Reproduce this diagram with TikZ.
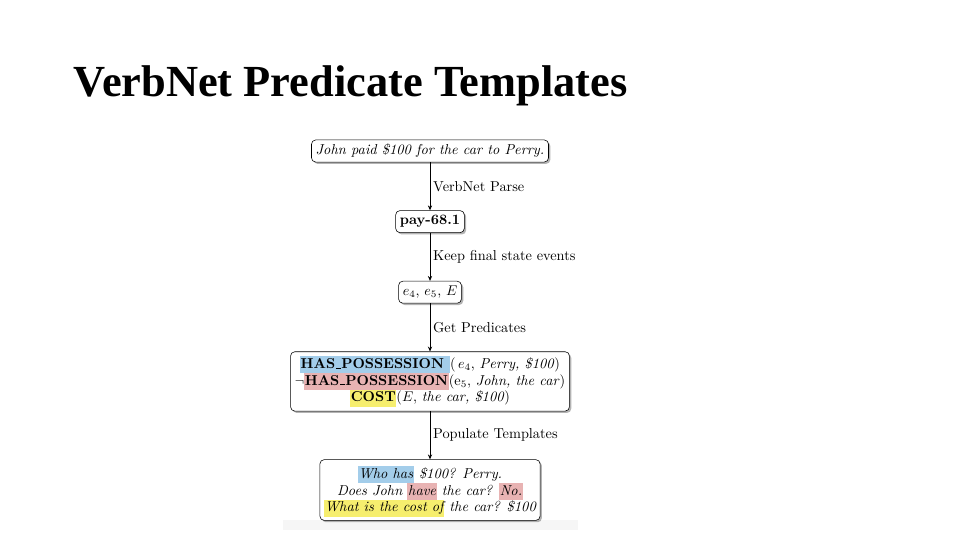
\documentclass[tikz,border=0pt]{standalone}
\usepackage{amsmath, amssymb}
\usepackage{fontspec}
\usepackage{tikz}
\usetikzlibrary{arrows.meta,positioning,shadows}

\newfontfamily\titlefont{Liberation Serif}
\definecolor{hlblue}{HTML}{A3CDEA}
\definecolor{hlpink}{HTML}{E8B3B3}
\definecolor{hlyellow}{HTML}{F6EE6E}
\newcommand{\hlb}[1]{{\setlength{\fboxsep}{0pt}\smash{\colorbox{hlblue}{\strut\kern0.5pt#1\kern0.5pt}}}}
\newcommand{\hlp}[1]{{\setlength{\fboxsep}{0pt}\smash{\colorbox{hlpink}{\strut\kern0.5pt#1\kern0.5pt}}}}
\newcommand{\hly}[1]{{\setlength{\fboxsep}{0pt}\smash{\colorbox{hlyellow}{\strut\kern0.5pt#1\kern0.5pt}}}}
\newcommand{\usc}{\kern0.05em\rule{0.32em}{0.45pt}\kern0.05em}

\begin{document}
\begin{tikzpicture}[
  stage/.style={rectangle,draw,rounded corners=3pt,fill=white,align=center,
                font=\fontsize{10.2}{12}\selectfont,minimum height=0.55cm,
                inner sep=3pt,
                drop shadow={shadow xshift=1.3pt,shadow yshift=-1.3pt,opacity=0.6}},
  arrow/.style={-{Stealth[length=3.5pt,width=3pt]},line width=0.5pt},
  steplabel/.style={right,font=\fontsize{10.2}{12}\selectfont,inner sep=2pt}]

\useasboundingbox (0,0) rectangle (24,13.5);
\fill[gray!7] (7.075,0.25) rectangle (14.45,0.5);

\node[anchor=base west,font=\titlefont\bfseries\fontsize{31.6}{36}\selectfont]
  (title) at (1.725,11.075) {VerbNet Predicate Templates};

\node[stage] (sent) at (10.75,9.725) {\itshape John paid \$100 for the car to Perry.};
\node[stage,below=1.2cm of sent] (parse) {\bfseries pay-68.1};
\node[stage,below=1.2cm of parse] (events) {$e_4$, $e_5$, $E$};
\node[stage,below=1.2cm of events,inner ysep=4pt] (preds)
{\hlb{\bfseries HAS\usc POSSESSION\ }(\,$e_4$, \textit{Perry, \$100})\\
 $\neg$\hlp{\bfseries HAS\usc POSSESSION}(e$_5$, \textit{John, the car})\\
 \hly{\bfseries COST}($E$, \textit{the car, \$100})};
\node[stage,below=1.2cm of preds,inner ysep=5.5pt] (quest)
{\itshape \hlb{Who has} \$100? Perry.\\
 \itshape Does John \hlp{have} the car? \hlp{No.}\\
 \itshape \hly{What is the cost of} the car? \$100};

\draw[arrow] (sent)--node[steplabel]{VerbNet Parse}(parse);
\draw[arrow] (parse)--node[steplabel]{Keep final state events}(events);
\draw[arrow] (events)--node[steplabel]{Get Predicates}(preds);
\draw[arrow] (preds)--node[steplabel]{Populate Templates}(quest);
\end{tikzpicture}
\end{document}
